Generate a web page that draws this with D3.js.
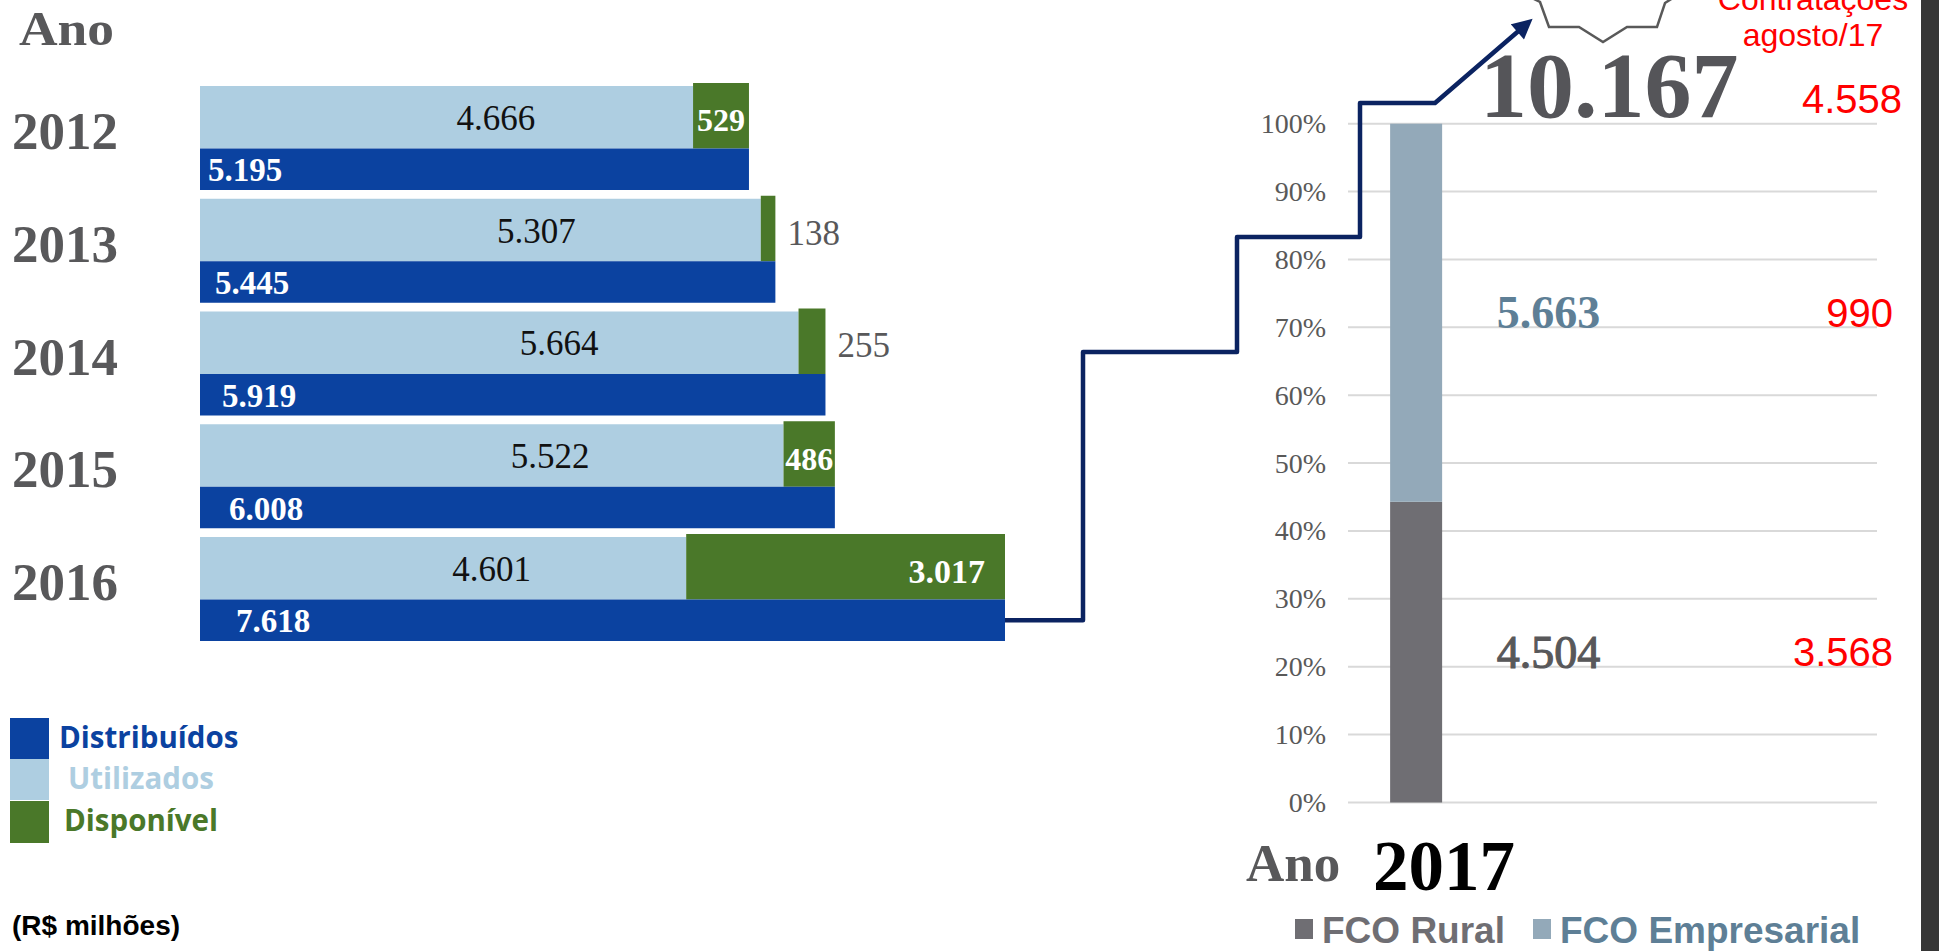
<!DOCTYPE html>
<html><head><meta charset="utf-8">
<script src="https://cdn.jsdelivr.net/npm/d3@7"></script>
<style>body{margin:0;background:#fff;overflow:hidden}</style>
</head><body><svg id="c" width="1939" height="951"></svg>
<script>
// ---------- data ----------
const anos = ["2012","2013","2014","2015","2016"];
const distribuidos = [5195,5445,5919,6008,7618];
const utilizados   = [4666,5307,5664,5522,4601];
const disponivel   = [529,138,255,486,3017];
const legendaEsq   = ["Distribuídos","Utilizados","Disponível"];
const unidade      = "(R$ milhões)";

const ano2017      = "2017";
const fcoSeries    = ["FCO Rural","FCO Empresarial"];
const fco2017      = [4504,5663];
const total2017    = 10167;
const contratacoes = [3568,990];
const contratacoesTotal = 4558;
const contratacoesTitulo = ["Contratações","agosto/17"];
const pctTicks = [0,0.1,0.2,0.3,0.4,0.5,0.6,0.7,0.8,0.9,1];

// ---------- setup ----------
const svg = d3.select("#c");
const SERIF = "'Liberation Serif','Times New Roman',serif";
const SANS  = "'Liberation Sans',Arial,sans-serif";
const LSANS = "'Open Sans','Noto Sans',sans-serif";
const C = {dist:"#0B42A0", util:"#AECEE1", disp:"#4A7829", gray:"#58585A",
           navy:"#0B2361", rural:"#6F6E73", emp:"#93A9B9", empTxt:"#5E7F96",
           red:"#FF0000", grid:"#D9D9D9"};
const br = d3.formatLocale({decimal:",",thousands:".",grouping:[3],currency:["R$ ",""]});
const fmt = br.format(",d");

// dark strip on the right edge
svg.append("rect").attr("x",1921).attr("y",0).attr("width",18).attr("height",951).attr("fill","#363636");

// ---------- left chart ----------
const rows = anos.map((a,i)=>({ano:a,i,dist:distribuidos[i],util:utilizados[i],disp:disponivel[i]}));
const x = d3.scaleLinear().domain([0,d3.max(distribuidos)]).range([200,1005]);
const y = d3.scaleBand().domain(anos).range([83,83+112.75*anos.length]);
const G_TOP=0, L_TOP=3, MID=65.5, B_BOT=107;

svg.append("text").text("Ano").attr("x",19).attr("y",45)
  .attr("textLength",95).attr("lengthAdjust","spacingAndGlyphs")
  .attr("font-family",SERIF).attr("font-weight","bold").attr("font-size",48).attr("fill",C.gray);

const row = svg.selectAll("g.row").data(rows).join("g").attr("class","row");
row.append("rect").attr("x",x(0)).attr("y",d=>y(d.ano)+L_TOP)
  .attr("width",d=>x(d.util)-x(0)).attr("height",MID-L_TOP).attr("fill",C.util);
row.append("rect").attr("x",d=>x(d.util)).attr("y",d=>y(d.ano)+G_TOP)
  .attr("width",d=>x(d.util+d.disp)-x(d.util)).attr("height",MID-G_TOP).attr("fill",C.disp);
row.append("rect").attr("x",x(0)).attr("y",d=>y(d.ano)+MID)
  .attr("width",d=>x(d.dist)-x(0)).attr("height",B_BOT-MID).attr("fill",C.dist);

// year labels
row.append("text").text(d=>d.ano).attr("x",12).attr("y",d=>y(d.ano)+48)
  .attr("dominant-baseline","central")
  .attr("font-family",SERIF).attr("font-weight","bold").attr("font-size",53).attr("fill",C.gray);
// utilizados labels
row.append("text").text(d=>fmt(d.util))
  .attr("x",d=>x(0)+0.6*(x(d.util)-x(0))).attr("y",d=>y(d.ano)+(L_TOP+MID)/2+1)
  .attr("text-anchor","middle").attr("dominant-baseline","central")
  .attr("font-family",SERIF).attr("font-size",35).attr("fill","#111");
// distribuidos labels
row.append("text").text(d=>fmt(d.dist))
  .attr("x",d=>x(0)+8+d.i*7).attr("y",d=>y(d.ano)+(MID+B_BOT)/2+1)
  .attr("dominant-baseline","central")
  .attr("font-family",SERIF).attr("font-weight","bold").attr("font-size",33).attr("fill","#fff");
// disponivel labels
row.append("text").text(d=>fmt(d.disp))
  .each(function(d){
    const x0 = x(d.util), x1 = x(d.util+d.disp), w = x1-x0;
    const t = d3.select(this);
    if (w>45) {
      t.attr("font-weight","bold").attr("fill","#fff");
      if (w<150) t.attr("x",(x0+x1)/2).attr("text-anchor","middle").attr("font-size",32);
      else t.attr("x",x1-20).attr("text-anchor","end").attr("font-size",34);
    } else {
      t.attr("x",x1+12).attr("text-anchor","start").attr("fill",C.gray).attr("font-size",35);
    }
  })
  .attr("y",d=>y(d.ano)+(L_TOP+MID)/2+3).attr("dominant-baseline","central")
  .attr("font-family",SERIF);

// left legend
const legCols=[C.dist,C.util,C.disp];
const legY=[718,759,801], legTx=[59,68,64];
legendaEsq.forEach((s,i)=>{
  svg.append("rect").attr("x",10).attr("y",legY[i]).attr("width",39).attr("height",i==2?42:41).attr("fill",legCols[i]);
  svg.append("text").text(s).attr("x",legTx[i]).attr("y",legY[i]+18)
    .attr("dominant-baseline","central")
    .attr("font-family",LSANS).attr("font-weight","bold").attr("font-size",29.5).attr("fill",legCols[i]);
});
svg.append("text").text(unidade).attr("x",12).attr("y",935)
  .attr("font-family",SANS).attr("font-weight","bold").attr("font-size",28).attr("fill","#000");

// ---------- right chart ----------
const yR = d3.scaleLinear().domain([0,1]).range([802.5,123.7]);
const xR = d3.scaleBand().domain(["bar","valor","meio","contr"]).range([1348,1877]);
const barW = 52;

svg.append("g").selectAll("line").data(pctTicks).join("line")
  .attr("x1",xR.range()[0]).attr("x2",xR.range()[1])
  .attr("y1",d=>yR(d)).attr("y2",d=>yR(d)).attr("stroke",C.grid).attr("stroke-width",2);

const ax = svg.append("g").attr("transform","translate(1326,0)")
  .call(d3.axisLeft(yR).tickValues(pctTicks).tickFormat(d3.format(".0%")).tickSize(0).tickPadding(0));
ax.attr("font-family",SERIF);
ax.select(".domain").remove();
ax.selectAll("text").attr("font-family",SERIF).attr("font-size",28).attr("fill","#595959");

const rec = {}; fcoSeries.forEach((k,i)=>rec[k]=fco2017[i]);
const stack = d3.stack().keys(fcoSeries).offset(d3.stackOffsetExpand)([rec]);
const sCols=[C.rural,C.emp], sTxt=[C.gray,C.empTxt];
const bx = xR("bar")+(xR.bandwidth()-barW)/2 + 2;
stack.forEach((s,i)=>{
  const d=s[0];
  svg.append("rect").attr("x",bx).attr("y",yR(d[1])).attr("width",barW)
    .attr("height",yR(d[0])-yR(d[1])).attr("fill",sCols[i]);
  const cy = yR((d[0]+d[1])/2);
  svg.append("text").text(fmt(fco2017[i])).attr("x",xR("valor")+xR.bandwidth()/2+2).attr("y",cy)
    .attr("text-anchor","middle").attr("dominant-baseline","central")
    .attr("font-family",SERIF).attr("font-size",46).attr("fill",sTxt[i])
    .attr("font-weight",i==1?"bold":"normal")
    .attr("stroke",i==0?sTxt[i]:"none").attr("stroke-width",1.1);
  svg.append("text").text(fmt(contratacoes[i])).attr("x",xR("contr")+xR.bandwidth()+16).attr("y",cy)
    .attr("text-anchor","end").attr("dominant-baseline","central")
    .attr("font-family",SANS).attr("font-size",40).attr("fill",C.red);
});
// totals
svg.append("text").text(fmt(total2017)).attr("x",1480).attr("y",117)
  .attr("font-family",SERIF).attr("font-weight","bold").attr("font-size",94).attr("fill","#555559");
svg.append("text").text(fmt(contratacoesTotal)).attr("x",xR("contr")+xR.bandwidth()+25).attr("y",yR(1)-25)
  .attr("text-anchor","end").attr("dominant-baseline","central")
  .attr("font-family",SANS).attr("font-size",40).attr("fill",C.red);
contratacoesTitulo.forEach((t,i)=>{
  svg.append("text").text(t).attr("x",1813).attr("y",10+i*36)
    .attr("text-anchor","middle").attr("font-family",SANS).attr("font-size",32).attr("fill",C.red);
});

// "Ano 2017"
svg.append("text").text("Ano").attr("x",1246).attr("y",881)
  .attr("font-family",SERIF).attr("font-weight","bold").attr("font-size",53).attr("fill",C.gray);
svg.append("text").text(ano2017).attr("x",1373).attr("y",890)
  .attr("font-family",SERIF).attr("font-weight","bold").attr("font-size",71).attr("fill","#000");

// right legend
const rLegX=[1295,1533];
fcoSeries.forEach((s,i)=>{
  svg.append("rect").attr("x",rLegX[i]).attr("y",919).attr("width",18).attr("height",20).attr("fill",sCols[i]);
  svg.append("text").text(s).attr("x",rLegX[i]+27).attr("y",943)
    .attr("font-family",SANS).attr("font-weight","bold").attr("font-size",37).attr("fill",i==0?C.rural:C.empTxt);
});

// ---------- connector (annotation) ----------
const yStart = y(anos[anos.length-1])+(MID+B_BOT)/2;
const stepPts = [[x(d3.max(distribuidos)),yStart],[1083,yStart],[1083,352],[1237,352],[1237,237],
                 [1360,237],[1360,103],[1435,103],[1522,28]];
const defs = svg.append("defs");
defs.append("marker").attr("id","arr").attr("markerUnits","userSpaceOnUse")
  .attr("viewBox","0 0 10 10").attr("refX",3).attr("refY",5).attr("markerWidth",22).attr("markerHeight",20)
  .attr("orient","auto").append("path").attr("d","M0,0 L10,5 L0,10 Z").attr("fill",C.navy);
svg.append("path").attr("d",d3.line()(stepPts)).attr("fill","none")
  .attr("stroke",C.navy).attr("stroke-width",4.5).attr("stroke-linejoin","round")
  .attr("marker-end","url(#arr)");

// badge outline at top
const badge = [[1528,-4],[1540,2],[1549,27],[1579,27],[1603,42],[1627,27],[1657,27],[1665,3],[1676,-4]];
svg.append("path").attr("d",d3.line()(badge)).attr("fill","none").attr("stroke","#595959").attr("stroke-width",2.5);
</script></body></html>
